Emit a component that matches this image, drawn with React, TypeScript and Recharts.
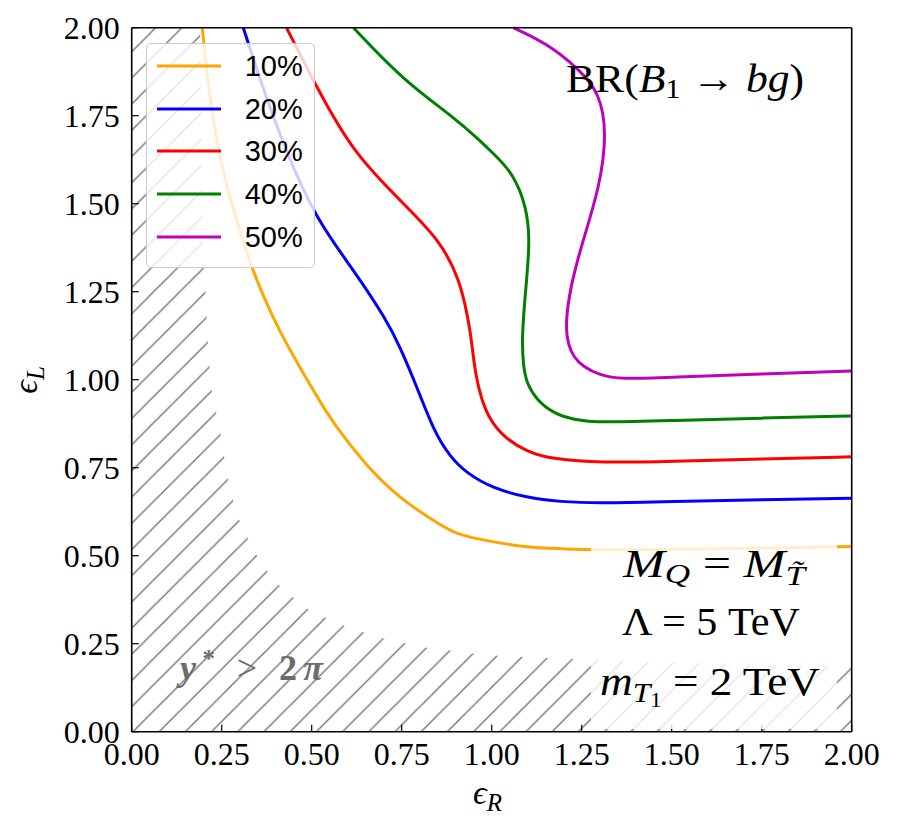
import React from 'react';
import { ComposedChart, Line, Area, XAxis, YAxis, Legend } from 'recharts';

// tick positions shared by both axes (epsilon_R and epsilon_L)
const axisTicks = [0, 0.25, 0.5, 0.75, 1, 1.25, 1.5, 1.75, 2];

const seriesLabels = ['10%', '20%', '30%', '40%', '50%'];
const seriesColors = ['#ffa500', '#0000ff', '#ff0000', '#008000', '#bf00bf'];

// BR(B1 -> bg) contours, eps_R / eps_L pairs
const br10R = [0.196, 0.213, 0.241, 0.268, 0.3, 0.329, 0.366, 0.412, 0.467, 0.518, 0.56, 0.653, 0.745, 0.829, 0.893, 0.967, 1.078, 1.153, 1.273, 1.5, 1.75, 2.0];
const br10L = [2.0, 1.83, 1.643, 1.535, 1.425, 1.33, 1.236, 1.135, 1.035, 0.947, 0.876, 0.753, 0.663, 0.606, 0.564, 0.546, 0.526, 0.521, 0.516, 0.518, 0.521, 0.526];

const br20R = [0.31, 0.357, 0.43, 0.514, 0.616, 0.708, 0.745, 0.792, 0.838, 0.884, 0.931, 1.004, 1.097, 1.19, 1.3, 1.5, 1.75, 2.0];
const br20L = [2.0, 1.85, 1.643, 1.454, 1.312, 1.17, 1.094, 0.98, 0.857, 0.781, 0.734, 0.691, 0.665, 0.653, 0.649, 0.654, 0.659, 0.663];

const br30R = [0.43, 0.514, 0.616, 0.754, 0.856, 0.912, 0.935, 0.944, 0.954, 0.972, 0.995, 1.032, 1.097, 1.171, 1.3, 1.5, 1.75, 2.0];
const br30L = [2.0, 1.83, 1.643, 1.501, 1.397, 1.283, 1.17, 1.112, 1.018, 0.942, 0.886, 0.838, 0.795, 0.774, 0.764, 0.768, 0.775, 0.781];

const br40R = [0.616, 0.754, 0.893, 0.967, 1.004, 1.06, 1.097, 1.106, 1.097, 1.083, 1.088, 1.097, 1.125, 1.171, 1.227, 1.3, 1.5, 1.75, 2.0];
const br40L = [2.0, 1.851, 1.747, 1.68, 1.643, 1.586, 1.49, 1.397, 1.283, 1.122, 1.037, 0.99, 0.942, 0.905, 0.886, 0.878, 0.884, 0.891, 0.897];

const br50R = [1.06, 1.153, 1.245, 1.3, 1.32, 1.3, 1.254, 1.218, 1.204, 1.213, 1.227, 1.254, 1.3, 1.356, 1.5, 1.75, 2.0];
const br50L = [2.0, 1.956, 1.88, 1.814, 1.7, 1.548, 1.397, 1.264, 1.15, 1.099, 1.065, 1.037, 1.013, 1.001, 1.007, 1.016, 1.025];

// excluded region y* > 2pi (upper edge)
const hatchR = [0, 0.19, 0.195, 0.2, 0.207, 0.215, 0.222, 0.245, 0.264, 0.29, 0.338, 0.393, 0.477, 0.569, 0.68, 0.8, 0.99, 1.25, 1.5, 1.75, 2.0];
const hatchL = [2.0, 2.0, 1.6, 1.35, 1.2, 1.05, 0.97, 0.857, 0.735, 0.62, 0.516, 0.431, 0.355, 0.308, 0.27, 0.241, 0.217, 0.205, 0.197, 0.19, 0.185];

const zip = (xs: number[], ys: number[]) => xs.map((x, i) => ({ x, y: ys[i] }));

const contours = [
  zip(br10R, br10L),
  zip(br20R, br20L),
  zip(br30R, br30L),
  zip(br40R, br40L),
  zip(br50R, br50L),
];
const hatchData = zip(hatchR, hatchL);

const SERIF = "'Liberation Serif', 'DejaVu Serif', serif";
const tickStyle = { fontFamily: SERIF, fontSize: 32, fill: '#000' };
const frame = { stroke: '#000', strokeWidth: 1.6 };
const tickMark = { stroke: '#000', strokeWidth: 1.2 };
const fmt = (v: number) => v.toFixed(2);

const LegendBox = () => (
  <div
    style={{
      width: 169,
      height: 225,
      boxSizing: 'border-box',
      border: '1px solid #cccccc',
      borderRadius: 5,
      background: 'rgba(255,255,255,0.8)',
      position: 'relative',
    }}
  >
    {seriesLabels.map((lab, i) => (
      <div
        key={lab}
        style={{
          position: 'absolute',
          left: 9.7,
          top: 22 - 16 + i * 42.9,
          height: 32,
          display: 'flex',
          alignItems: 'center',
        }}
      >
        <svg width={64} height={4} style={{ display: 'block' }}>
          <line x1={0} y1={2} x2={64} y2={2} stroke={seriesColors[i]} strokeWidth={3} />
        </svg>
        <span style={{ marginLeft: 24, fontFamily: "'Liberation Sans', Arial, sans-serif", fontSize: 29, color: '#000', lineHeight: '32px' }}>
          {lab}
        </span>
      </div>
    ))}
  </div>
);

export default function App() {
  return (
    <div style={{ position: 'absolute', left: 0, top: 0, width: 899, height: 835, background: '#fff' }}>
      <ComposedChart
        width={899}
        height={835}
        data={hatchData}
        margin={{ top: 26.7, right: 46.3, bottom: 102.3, left: 130.7 }}
      >
        <defs>
          <pattern id="hatch" patternUnits="userSpaceOnUse" width={26.2} height={26.2}>
            <path
              d="M-3,3 L3,-3 M0,26.2 L26.2,0 M23.2,29.2 L29.2,23.2"
              stroke="#7a7a7a"
              strokeWidth={1.5}
            />
          </pattern>
        </defs>
        <XAxis
          xAxisId="b"
          type="number"
          dataKey="x"
          domain={[0, 2]}
          ticks={axisTicks}
          tickFormatter={fmt}
          height={1}
          tickSize={-7}
          tickMargin={18}
          tick={tickStyle}
          axisLine={frame}
          tickLine={tickMark}
        />
        <XAxis
          xAxisId="t"
          type="number"
          orientation="top"
          domain={[0, 2]}
          ticks={axisTicks}
          height={1}
          tickSize={-7}
          tick={false}
          axisLine={frame}
          tickLine={tickMark}
        />
        <YAxis
          yAxisId="l"
          type="number"
          domain={[0, 2]}
          ticks={axisTicks}
          tickFormatter={fmt}
          width={1}
          tickSize={-7}
          tickMargin={19}
          tick={tickStyle}
          axisLine={frame}
          tickLine={tickMark}
        />
        <YAxis
          yAxisId="r"
          type="number"
          orientation="right"
          domain={[0, 2]}
          ticks={axisTicks}
          width={1}
          tickSize={-7}
          tick={false}
          axisLine={frame}
          tickLine={tickMark}
        />
        <Area
          xAxisId="b"
          yAxisId="l"
          type="linear"
          dataKey="y"
          baseValue={0}
          stroke="none"
          fill="url(#hatch)"
          fillOpacity={1}
          dot={false}
          activeDot={false}
          legendType="none"
          isAnimationActive={false}
        />
        {contours.map((pts, i) => (
          <Line
            key={seriesLabels[i]}
            xAxisId="b"
            yAxisId="l"
            data={pts}
            dataKey="y"
            name={seriesLabels[i]}
            type="basis"
            stroke={seriesColors[i]}
            strokeWidth={3}
            dot={false}
            activeDot={false}
            isAnimationActive={false}
          />
        ))}
        <Legend
          layout="vertical"
          align="center"
          verticalAlign="middle"
          wrapperStyle={{ left: 146, top: 42.7, width: 169, height: 225 }}
          content={() => <LegendBox />}
        />
      </ComposedChart>

      <svg
        width={899}
        height={835}
        style={{ position: 'absolute', left: 0, top: 0, pointerEvents: 'none' }}
        fontFamily={SERIF}
      >
        {/* semi-transparent box behind the parameter text */}
        <rect x={591} y={545} width={246} height={184} fill="#fff" fillOpacity={0.8} />

        <text x={566} y={91.7} fontSize={40} textLength={238} lengthAdjust="spacingAndGlyphs" fill="#000">
          BR(<tspan fontStyle="italic">B</tspan>
          <tspan fontSize={28} dy={6}>1</tspan>
          <tspan dy={-6}> → </tspan>
          <tspan fontStyle="italic">bg</tspan>)
        </text>

        <text x={714} y={576.7} fontSize={40} textAnchor="middle" textLength={182} lengthAdjust="spacingAndGlyphs" fill="#000">
          <tspan fontStyle="italic">M</tspan>
          <tspan fontSize={28} dy={6} fontStyle="italic">Q</tspan>
          <tspan dy={-6}> = </tspan>
          <tspan fontStyle="italic">M</tspan>
          <tspan fontSize={28} dy={8} fontStyle="italic">T̃</tspan>
        </text>
        <text x={711} y={635} fontSize={40} textAnchor="middle" textLength={178} lengthAdjust="spacingAndGlyphs" fill="#000">
          Λ = 5 TeV
        </text>
        <text x={710} y={695} fontSize={40} textAnchor="middle" textLength={220} lengthAdjust="spacingAndGlyphs" fill="#000">
          <tspan fontStyle="italic">m</tspan>
          <tspan fontSize={28} dy={7} fontStyle="italic">T</tspan>
          <tspan fontSize={20} dy={5}>1</tspan>
          <tspan dy={-12}> = 2 TeV</tspan>
        </text>

        <text x={180} y={680} fontSize={36} fontWeight="bold" fill="#6b6b6b" textLength={143} lengthAdjust="spacing">
          <tspan fontStyle="italic">y</tspan>
          <tspan fontSize={25} dy={-13}>*</tspan>
          <tspan dy={13} fontWeight="normal"> &gt; </tspan>
          <tspan>2</tspan>
          <tspan fontStyle="italic">π</tspan>
        </text>

        <text x={473} y={804} fontSize={34} fill="#000">
          <tspan fontStyle="italic">ϵ</tspan>
          <tspan fontSize={25} dy={7} fontStyle="italic">R</tspan>
        </text>
        <text x={37} y={380} fontSize={34} fill="#000" textAnchor="middle" transform="rotate(-90 37 380)">
          <tspan fontStyle="italic">ϵ</tspan>
          <tspan fontSize={25} dy={7} fontStyle="italic">L</tspan>
        </text>
      </svg>
    </div>
  );
}
